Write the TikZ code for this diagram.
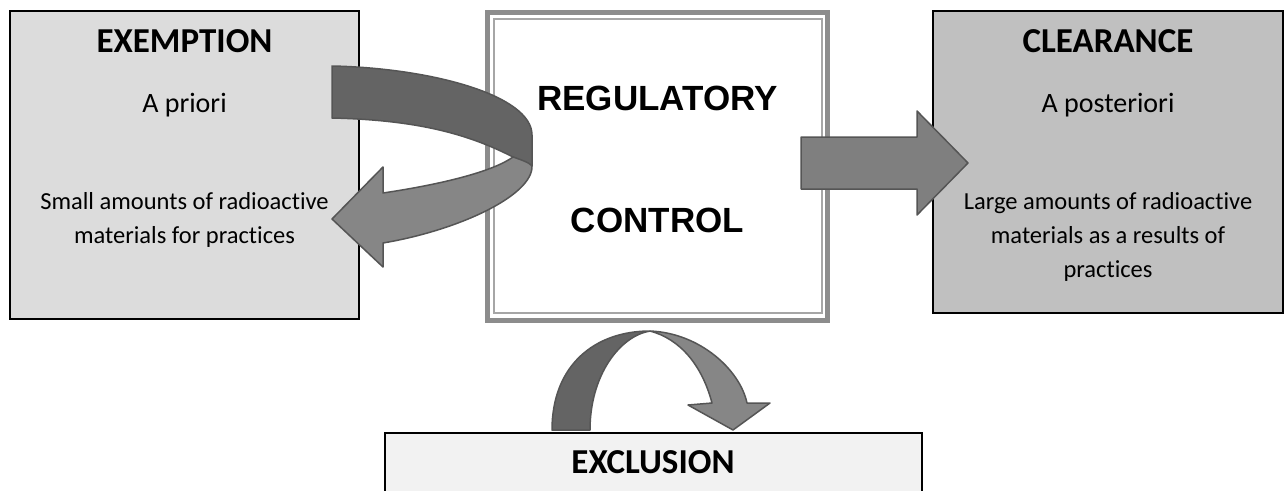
\documentclass[tikz,border=0pt]{standalone}
\usepackage{fontspec}
\setmainfont{Carlito}[RawFeature={-liga;-clig;-dlig}]
\newfontfamily\arialfont{Liberation Sans}
\definecolor{exfill}{HTML}{DCDCDC}
\definecolor{clfill}{HTML}{C0C0C0}
\definecolor{xlfill}{HTML}{F2F2F2}
\definecolor{regout}{HTML}{8C8C8C}
\definecolor{regin}{HTML}{A6A6A6}
\definecolor{darkband}{HTML}{646464}
\definecolor{lightband}{HTML}{868686}
\definecolor{arrfill}{HTML}{7F7F7F}
\definecolor{arrline}{HTML}{555555}
\begin{document}
\begin{tikzpicture}[x=1pt,y=-1pt,
  box/.style={draw=black, line width=1.2pt, inner sep=0pt, outer sep=0pt, anchor=north west},
  arr/.style={draw=arrline, line width=1.5pt, line join=round},
  title/.style={font=\bfseries\fontsize{35}{40}\selectfont, anchor=base, inner sep=0pt},
  sub/.style={font=\fontsize{28}{32}\selectfont, anchor=base, inner sep=0pt},
  body/.style={font=\fontsize{24.5}{30}\selectfont, anchor=base, inner sep=0pt},
  regtext/.style={font=\arialfont\bfseries\fontsize{35}{40}\selectfont, anchor=base, inner sep=0pt}]
\useasboundingbox (0,0) rectangle (1285,490);
% boxes
\node[box, fill=exfill, minimum width=349pt, minimum height=308pt] (exemption) at (10,11) {};
\node[box, draw=regout, fill=white, line width=5pt, minimum width=340pt, minimum height=308pt] (reg) at (487.5,12.5) {};
\node[box, draw=regin, line width=2pt, minimum width=328.5pt, minimum height=294pt] (reginner) at (493.5,19) {};
\node[box, fill=clfill, minimum width=350pt, minimum height=302pt] (clearance) at (933,11) {};
\node[box, fill=xlfill, minimum width=537pt, minimum height=70pt] (exclusion) at (385,433) {};
% texts
\node[title] (t1) at (184.5,52) {EXEMPTION};
\node[sub] (t2) at (184.5,112) {A priori};
\node[body] (t3) at (184.5,209) {Small amounts of radioactive};
\node[body] (t4) at (184.5,243) {materials for practices};
\node[title] (c1) at (1108,52) {CLEARANCE};
\node[sub] (c2) at (1108,112) {A posteriori};
\node[body] (c3) at (1108,209) {Large amounts of radioactive};
\node[body] (c4) at (1108,243) {materials as a results of};
\node[body] (c5) at (1108,277) {practices};
\node[regtext] (r1) at (657.5,110) {REGULATORY};
\node[regtext] (r2) at (657.5,232) {CONTROL};
\node[title] (x1) at (653,473) {EXCLUSION};
% left curled arrow
\filldraw[arr, fill=darkband] (332,66) .. controls (430,68) and (532,95) .. (532,135) -- (532,166) -- (513,157) .. controls (470,135) and (420,120) .. (332,118) -- cycle;
\filldraw[arr, fill=lightband] (383,193) .. controls (450,183) and (495,170) .. (513,157)
  .. controls (522,160) and (530,163) .. (532,166)
  .. controls (533,195) and (460,230) .. (383,243)
  -- (383,267) -- (332,219) -- (383,167) -- cycle;
% right straight arrow
\filldraw[arr, fill=arrfill] (801,137) -- (917,137) -- (917,111) -- (968,163) -- (917,215) -- (917,189) -- (801,189) -- cycle;
% bottom arched arrow
\filldraw[arr, fill=darkband] (552,430) .. controls (552,365) and (595,331) .. (650,331) .. controls (620,336) and (590,375) .. (590,430) -- cycle;
\filldraw[arr, fill=lightband] (650,331) .. controls (700,333) and (740,370) .. (747,403) -- (770,403) -- (733,430) -- (688,405) -- (712,403) .. controls (702,365) and (680,339) .. (650,331) -- cycle;
\end{tikzpicture}
\end{document}
